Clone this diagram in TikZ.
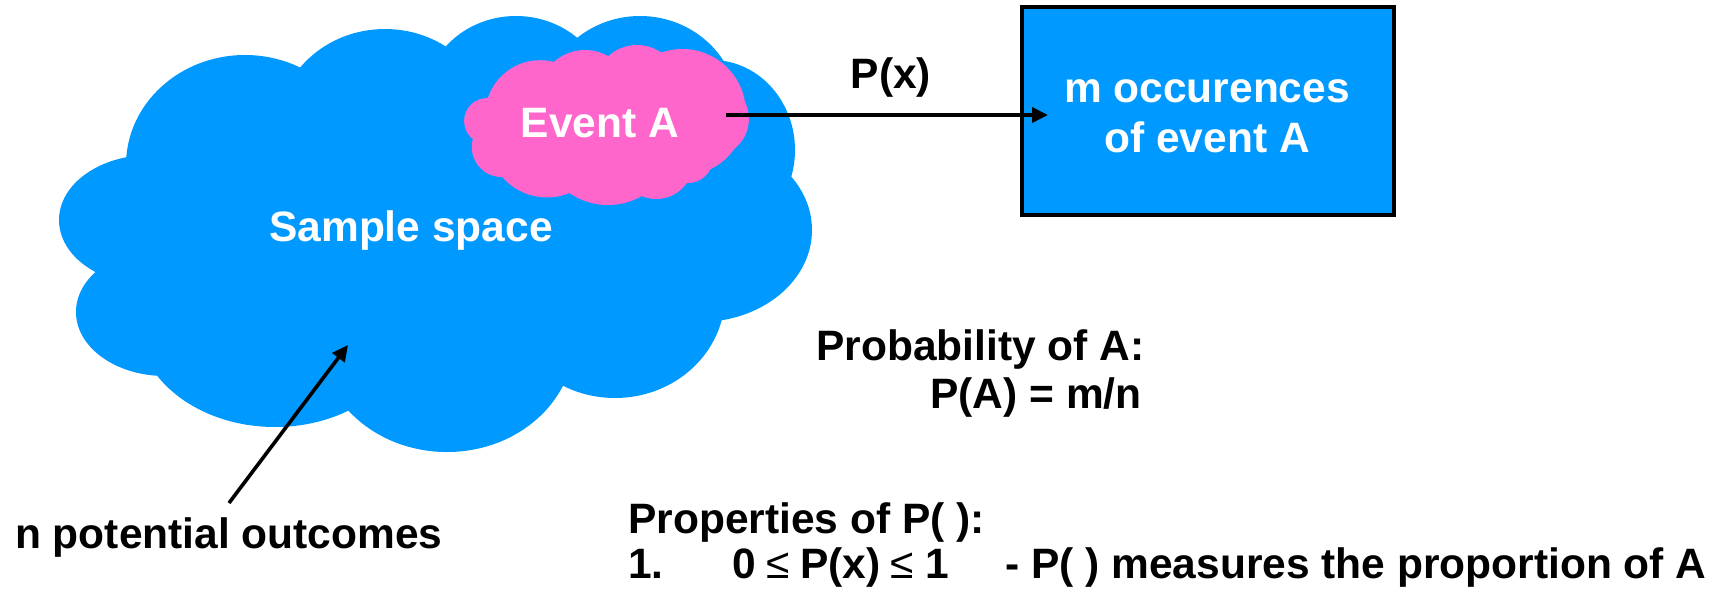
\documentclass[tikz,border=0pt]{standalone}
\usepackage{fontspec}
\setmainfont{Liberation Sans}
\usetikzlibrary{arrows.meta}
\definecolor{skyblue}{RGB}{0,153,255}
\definecolor{pinkc}{RGB}{255,102,204}
\begin{document}
\begin{tikzpicture}[x=1pt,y=-1pt,
  txt/.style={font=\fontsize{42.5}{50}\selectfont\bfseries, inner sep=0pt, text=black},
  wtxt/.style={txt, text=white},
  leq/.style={font=\fontsize{42.5}{50}\selectfont, inner sep=0pt, anchor=base west},
  arr/.style={line width=3.6pt, -{Triangle[length=16pt,width=15pt]}},
  bluefill/.style={fill=skyblue},
  pinkfill/.style={fill=pinkc},
  box/.style={draw=black, line width=4pt, fill=skyblue, minimum width=372pt, minimum height=208pt, inner sep=0pt}]
\useasboundingbox (0,0) rectangle (1725,592);

% ---- sample space cloud (blue) ----
\fill[bluefill, scale around={0.98:(450,240)}] (126,160) -- (303,67) -- (450,47) -- (578,37) -- (723,63) -- (788,172) -- (712,321) -- (557,388) -- (347,413) -- (160,373) -- (93,272) -- cycle;
\fill[bluefill] (150,220) ellipse [x radius=91pt, y radius=65pt];
\fill[bluefill] (245,165) ellipse [x radius=119pt, y radius=110pt];
\fill[bluefill] (385,130) ellipse [x radius=108pt, y radius=101pt];
\fill[bluefill] (516,102) ellipse [x radius=92pt, y radius=86pt];
\fill[bluefill] (640,110) ellipse [x radius=98pt, y radius=94pt];
\fill[bluefill] (712,150) ellipse [x radius=83pt, y radius=90pt];
\fill[bluefill] (700,230) ellipse [x radius=112pt, y radius=92pt];
\fill[bluefill] (615,295) ellipse [x radius=110pt, y radius=103pt];
\fill[bluefill] (447,340) ellipse [x radius=127pt, y radius=112pt];
\fill[bluefill] (275,320) ellipse [x radius=138pt, y radius=107pt];
\fill[bluefill] (165,312) ellipse [x radius=89pt, y radius=64pt];

% ---- event A cloud (pink) ----
\fill[pinkfill, scale around={0.97:(608,125)}] (488,98) -- (557,63) -- (612,55) -- (663,52) -- (745,102) -- (713,157) -- (687,183) -- (643,197) -- (572,192) -- (502,177) -- (473,139) -- cycle;
\fill[pinkfill] (487,121) circle [radius=22.9pt];
\fill[pinkfill] (540,115) circle [radius=54.8pt];
\fill[pinkfill] (585,96.5) circle [radius=46.5pt];
\fill[pinkfill] (637,87.5) circle [radius=42.5pt];
\fill[pinkfill] (682.4,112.4) circle [radius=63.4pt];
\fill[pinkfill] (710.7,118.8) circle [radius=38.2pt];
\fill[pinkfill] (688,158) circle [radius=25pt];
\fill[pinkfill] (656.3,162) circle [radius=37pt];
\fill[pinkfill] (608,137) circle [radius=68pt];
\fill[pinkfill] (547,138) circle [radius=59.4pt];
\fill[pinkfill] (501.6,147.2) circle [radius=29.8pt];

% ---- texts in clouds ----
\node[wtxt, anchor=base] (sample) at (411,241) {Sample space};
\node[wtxt, anchor=base] (eventA) at (600,137) {Event A};

% ---- occurrences box ----
\node[box] (occ) at (1208,111) {};
\node[wtxt, anchor=base] (occ1) at (1207,102) {m occurences};
\node[wtxt, anchor=base] (occ2) at (1207,152) {of event A};

% ---- P(x) arrow ----
\coordinate (evout) at (726,115);
\coordinate (occin) at (1048,115);
\draw[arr] (evout) -- (occin);
\node[txt, anchor=base] (px) at (891,88) {P(x)};

% ---- probability texts ----
\node[txt, anchor=base west] (prob) at (816,360) {Probability of A:};
\node[txt, anchor=base east] (pa) at (1142,408) {P(A) = m/n};
\node[txt, anchor=base west] (props) at (628,533) {Properties of P( ):};
\node[txt, anchor=base west] (l1n) at (628,578) {1.};
\node[txt, anchor=base west] (l1z) at (732,578) {0};
\node[leq] (l1le1) at (766,578) {≤};
\node[txt, anchor=base west] (l1px) at (800,578) {P(x)};
\node[leq] (l1le2) at (890,578) {≤};
\node[txt, anchor=base west] (l1one) at (925,578) {1};
\node[txt, anchor=base west] (l1rest) at (1005,578) {- P( ) measures the proportion of A};

% ---- n potential outcomes ----
\node[txt, anchor=base west] (nout) at (15,548) {n potential outcomes};
\coordinate (ntail) at (229,503);
\coordinate (nhead) at (348,345);
\draw[arr] (ntail) -- (nhead);
\end{tikzpicture}
\end{document}
